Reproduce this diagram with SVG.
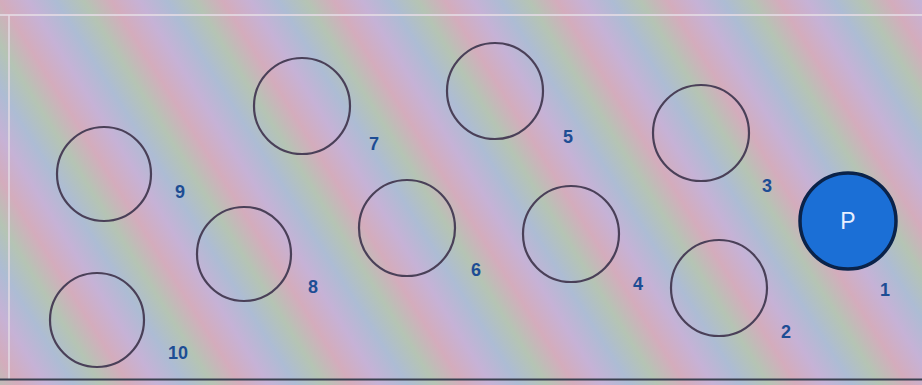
<svg xmlns="http://www.w3.org/2000/svg" width="922" height="385" viewBox="0 0 922 385">
  <defs>
    <linearGradient id="moire" gradientUnits="userSpaceOnUse" x1="0" y1="0" x2="80" y2="-50" spreadMethod="repeat">
      <stop offset="0" stop-color="#d4acbc"/>
      <stop offset="0.25" stop-color="#c6b2d6"/>
      <stop offset="0.5" stop-color="#adbcd4"/>
      <stop offset="0.75" stop-color="#b5c4b4"/>
      <stop offset="1" stop-color="#d4acbc"/>
    </linearGradient>
    <style>
      .slot { fill: none; stroke: #4a4058; stroke-width: 2.2; }
      .num { font-family: "Liberation Sans", Arial, sans-serif; font-size: 18px; font-weight: bold; fill: #1d4d94; text-anchor: middle; }
      .pin { fill: #1b6fd6; stroke: #0a234a; stroke-width: 3.5; }
      .pl { font-family: "Liberation Sans", Arial, sans-serif; font-size: 23px; fill: #e8f0ff; text-anchor: middle; }
    </style>
  </defs>
  <rect x="0" y="0" width="922" height="385" fill="url(#moire)"/>
  <line x1="0" y1="15" x2="922" y2="15" stroke="#e6dde6" stroke-width="2" opacity="0.8"/>
  <line x1="9" y1="15" x2="9" y2="379" stroke="#e6dde6" stroke-width="2" opacity="0.7"/>
  <line x1="0" y1="379.5" x2="922" y2="379.5" stroke="#3a4050" stroke-width="2"/>

  <g id="connectors"></g>

  <g id="node-1">
    <circle class="pin" cx="848" cy="221" r="48"/>
    <text class="pl" x="848" y="229">P</text>
    <text class="num" x="885" y="296">1</text>
  </g>
  <g id="node-2">
    <circle class="slot" cx="719" cy="288" r="48"/>
    <text class="num" x="786" y="338">2</text>
  </g>
  <g id="node-3">
    <circle class="slot" cx="701" cy="133" r="48"/>
    <text class="num" x="767" y="192">3</text>
  </g>
  <g id="node-4">
    <circle class="slot" cx="571" cy="234" r="48"/>
    <text class="num" x="638" y="290">4</text>
  </g>
  <g id="node-5">
    <circle class="slot" cx="495" cy="91" r="48"/>
    <text class="num" x="568" y="143">5</text>
  </g>
  <g id="node-6">
    <circle class="slot" cx="407" cy="228" r="48"/>
    <text class="num" x="476" y="276">6</text>
  </g>
  <g id="node-7">
    <circle class="slot" cx="302" cy="106" r="48"/>
    <text class="num" x="374" y="150">7</text>
  </g>
  <g id="node-8">
    <circle class="slot" cx="244" cy="254" r="47"/>
    <text class="num" x="313" y="293">8</text>
  </g>
  <g id="node-9">
    <circle class="slot" cx="104" cy="174" r="47"/>
    <text class="num" x="180" y="198">9</text>
  </g>
  <g id="node-10">
    <circle class="slot" cx="97" cy="320" r="47"/>
    <text class="num" x="178" y="359">10</text>
  </g>
</svg>
